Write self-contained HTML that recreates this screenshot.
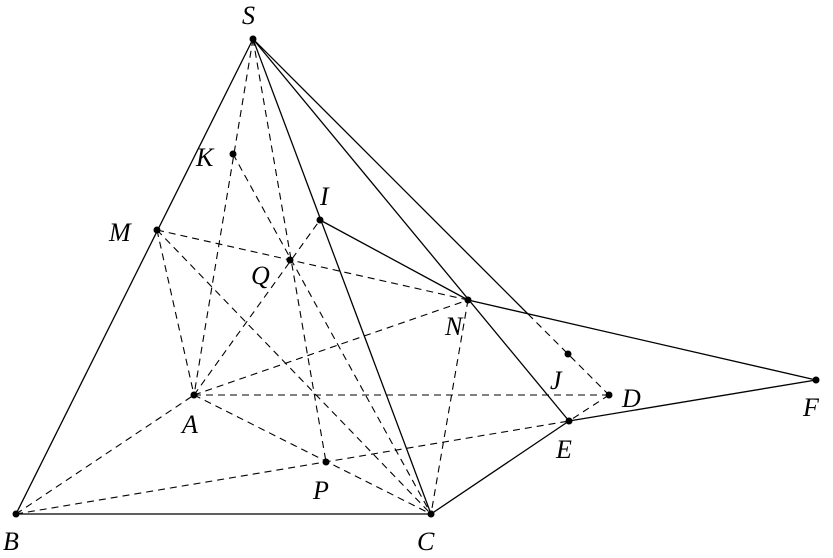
<!DOCTYPE html>
<html><head><style>body{margin:0;background:#fff}svg text{font-family:"Liberation Serif",serif;font-style:italic;font-size:26px}</style></head><body>
<svg width="833" height="553" viewBox="0 0 833 553" xmlns="http://www.w3.org/2000/svg">
<g stroke="#000" stroke-width="1.3" fill="none">
<line x1="253" y1="39" x2="16" y2="514"/>
<line x1="16" y1="514" x2="431" y2="514"/>
<line x1="253" y1="39" x2="431" y2="514"/>
<line x1="253" y1="39" x2="569" y2="421"/>
<line x1="253" y1="39" x2="528" y2="314"/>
<line x1="320" y1="220" x2="468" y2="300"/>
<line x1="468" y1="300" x2="816" y2="380"/>
<line x1="569" y1="421" x2="816" y2="380"/>
<line x1="431" y1="514" x2="569" y2="421"/>
</g>
<g stroke="#000" stroke-width="1.1" fill="none" stroke-dasharray="7,5">
<line x1="528" y1="314" x2="609" y2="395"/>
<line x1="253" y1="39" x2="194" y2="395"/>
<line x1="233" y1="154" x2="431" y2="514"/>
<line x1="253" y1="39" x2="326" y2="462"/>
<line x1="157" y1="230" x2="468" y2="300"/>
<line x1="157" y1="230" x2="194" y2="395"/>
<line x1="157" y1="230" x2="431" y2="514"/>
<line x1="194" y1="395" x2="320" y2="220"/>
<line x1="194" y1="395" x2="468" y2="300"/>
<line x1="194" y1="395" x2="609" y2="395"/>
<line x1="194" y1="395" x2="431" y2="514"/>
<line x1="16" y1="514" x2="194" y2="395"/>
<line x1="16" y1="514" x2="569" y2="421"/>
<line x1="468" y1="300" x2="431" y2="514"/>
<line x1="609" y1="395" x2="569" y2="421"/>
</g>
<g fill="#000">
<circle cx="253" cy="39" r="3.5"/><circle cx="233" cy="154" r="3.5"/><circle cx="320" cy="220" r="3.5"/>
<circle cx="157" cy="230" r="3.5"/><circle cx="290" cy="260" r="3.5"/><circle cx="468" cy="300" r="3.5"/>
<circle cx="568" cy="354" r="3.5"/><circle cx="609" cy="395" r="3.5"/><circle cx="816" cy="380" r="3.5"/>
<circle cx="194" cy="395" r="3.5"/><circle cx="569" cy="421" r="3.5"/><circle cx="326" cy="462" r="3.5"/>
<circle cx="16" cy="514" r="3.5"/><circle cx="431" cy="514" r="3.5"/>
</g>
<g fill="#000">
<text x="242" y="24">S</text><text x="196" y="166">K</text><text x="320" y="205">I</text>
<text x="109" y="241">M</text><text x="251" y="284">Q</text><text x="445" y="335">N</text>
<text x="550" y="389">J</text><text x="622" y="407">D</text><text x="803" y="416">F</text>
<text x="182" y="433">A</text><text x="556" y="458">E</text><text x="313" y="499">P</text>
<text x="3" y="550">B</text><text x="417" y="550">C</text>
</g>
</svg>
</body></html>
